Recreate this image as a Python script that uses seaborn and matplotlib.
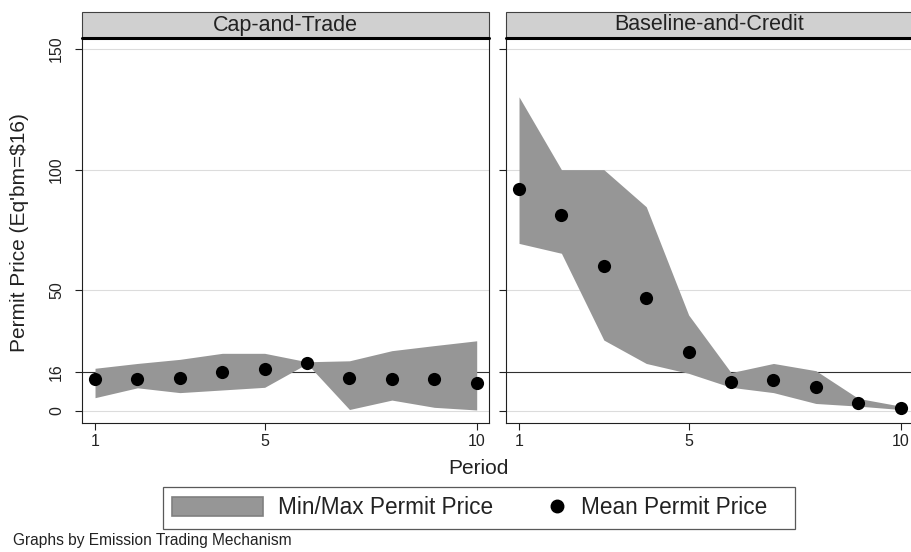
import numpy as np
import pandas as pd
import seaborn as sns
import matplotlib.pyplot as plt
from matplotlib.patches import Rectangle, Patch
from matplotlib.lines import Line2D
from matplotlib.legend_handler import HandlerLine2D

periods = list(range(1, 11))
mechanisms = ["Cap-and-Trade", "Baseline-and-Credit"]

# Cap-and-Trade
ct_mean = [13.0, 13.0, 13.4, 16.2, 17.2, 19.9, 13.4, 13.0, 13.0, 11.4]
ct_min = [5.4, 9.5, 7.5, 8.6, 9.7, 19.5, 0.5, 4.4, 1.4, 0.3]
ct_max = [17.6, 19.6, 21.3, 23.8, 23.8, 20.3, 20.7, 24.9, 27.0, 29.0]

# Baseline-and-Credit
bc_mean = [91.8, 81.2, 60.0, 46.9, 24.5, 12.0, 12.7, 10.0, 3.3, 1.0]
bc_min = [69.4, 65.3, 29.3, 19.6, 15.5, 9.7, 7.5, 3.0, 1.9, 0.5]
bc_max = [130.2, 100.0, 100.0, 84.6, 39.7, 15.8, 19.6, 16.6, 5.1, 1.9]

eq_price = 16
y_ticks = [0, 16, 50, 100, 150]
grid_vals = [0, 50, 100, 150]
x_ticks = [1, 5, 10]

df = pd.concat([
    pd.DataFrame({"mech": mechanisms[0], "period": periods,
                  "mean": ct_mean, "lo": ct_min, "hi": ct_max}),
    pd.DataFrame({"mech": mechanisms[1], "period": periods,
                  "mean": bc_mean, "lo": bc_min, "hi": bc_max}),
])

sns.set_style("white")
plt.rcParams["font.family"] = ["Liberation Sans", "DejaVu Sans"]
txt = "#222222"
band = "#969696"


def draw_panel(data, **kw):
    ax = plt.gca()
    for g in grid_vals:
        ax.axhline(g, color="#dcdcdc", lw=0.8, zorder=0)
    ax.axhline(eq_price, color="#303030", lw=0.8, zorder=1)
    ax.fill_between(data["period"], data["lo"], data["hi"], color=band, lw=0, zorder=2)
    sns.scatterplot(data=data, x="period", y="mean", color="black", s=90,
                    edgecolor="black", linewidth=0, zorder=3, ax=ax)


g = sns.FacetGrid(df, col="mech", col_order=mechanisms, sharey=True, sharex=True)
g.map_dataframe(draw_panel)
fig = g.figure
fig.set_size_inches(9.11, 5.52)
fig.set_dpi(100)

W, H = 911, 552
ax_bottom = 1 - 423 / H
ax_h = (423 - 38) / H
lefts = [82, 506]
for ax, lx, title in zip(g.axes.flat, lefts, mechanisms):
    ax.set_position([lx / W, ax_bottom, 407 / W, ax_h])
    ax.set_xlim(0.693, 10.29)
    ax.set_ylim(-5.1, 154.6)
    ax.set_xticks(x_ticks)
    ax.set_yticks(y_ticks)
    ax.set_xlabel("")
    ax.set_ylabel("")
    ax.set_title("")
    ax.tick_params(axis="both", direction="out", length=5, width=0.8,
                   color="#202020", labelcolor=txt, labelsize=11.5,
                   left=True, bottom=True)
    ax.tick_params(axis="x", pad=3)
    ax.tick_params(axis="y", pad=8)
    for lab in ax.get_yticklabels():
        lab.set_rotation(90)
        lab.set_va("center")
    for sp in ax.spines.values():
        sp.set_visible(True)
        sp.set_color("#202020")
        sp.set_linewidth(0.8)
    # strip header
    sh = 26 / 385
    ax.add_patch(Rectangle((0, 1), 1, sh, transform=ax.transAxes, clip_on=False,
                           facecolor="#d0d0d0", edgecolor="#404040", lw=0.8, zorder=5))
    ax.plot([0, 1], [1, 1], transform=ax.transAxes, clip_on=False, color="black", lw=2.2, zorder=6)
    ax.text(0.5, 1 + sh / 2, title, transform=ax.transAxes, ha="center", va="center",
            fontsize=15.5, color=txt, zorder=7)

g.axes.flat[1].tick_params(axis="y", labelleft=False)

fig.text(20 / W, 1 - 233 / H, "Permit Price (Eq'bm=$16)", rotation=90,
         ha="center", va="center", fontsize=15, color=txt)
fig.text(478 / W, 1 - 469 / H, "Period", ha="center", va="center", fontsize=15, color=txt)
fig.text(13 / W, 1 - 541 / H, "Graphs by Emission Trading Mechanism",
         ha="left", va="center", fontsize=11.2, color=txt)


class RightMarker(HandlerLine2D):
    def create_artists(self, legend, orig_handle, xdescent, ydescent, width, height, fontsize, trans):
        arts = super().create_artists(legend, orig_handle, xdescent, ydescent, width, height, fontsize, trans)
        for a in arts:
            a.set_xdata(np.full(len(a.get_xdata()), width * 0.9 - xdescent))
        return arts


h_band = Patch(facecolor=band, edgecolor="#808080", lw=1.2)
h_mean = Line2D([], [], ls="none", marker="o", color="black", markersize=9)
leg = fig.legend([h_band, h_mean], ["Min/Max Permit Price", "Mean Permit Price\u00a0\u00a0\u00a0"],
                 loc="center left", bbox_to_anchor=(163 / W, 1 - 508 / H), ncol=2,
                 fontsize=16.3, frameon=True, fancybox=False, handlelength=4.0,
                 handleheight=0.88, handletextpad=0.66, columnspacing=-0.75,
                 borderpad=0.4, borderaxespad=0,
                 handler_map={h_mean: RightMarker(numpoints=1)})
leg.get_frame().set_edgecolor("#303030")
leg.get_frame().set_linewidth(0.9)
for t in leg.get_texts():
    t.set_color(txt)

fig.savefig("out.png", dpi=100)
